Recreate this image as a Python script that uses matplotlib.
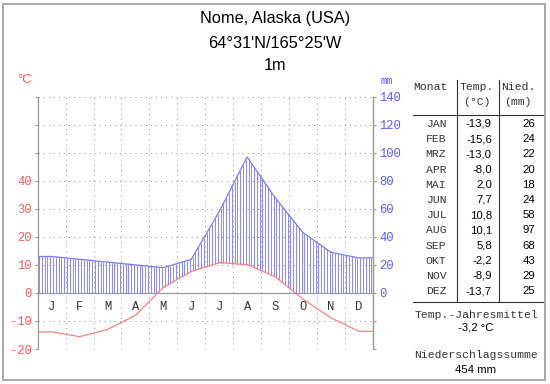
import numpy as np
import matplotlib
matplotlib.use("Agg")
import matplotlib.pyplot as plt
from matplotlib.lines import Line2D
from matplotlib.patches import Rectangle

# ---- data ----
month_letters = ['J', 'F', 'M', 'A', 'M', 'J', 'J', 'A', 'S', 'O', 'N', 'D']
table_months = ['JAN', 'FEB', 'MRZ', 'APR', 'MAI', 'JUN', 'JUL', 'AUG', 'SEP', 'OKT', 'NOV', 'DEZ']
temp = [-13.9, -15.6, -13.0, -8.0, 2.0, 7.7, 10.8, 10.1, 5.8, -2.2, -8.9, -13.7]
precip = [26, 24, 22, 20, 18, 24, 58, 97, 68, 43, 29, 25]
temp_labels = ['-13,9', '-15,6', '-13,0', '-8,0', '2,0', '7,7', '10,8', '10,1', '5,8', '-2,2', '-8,9', '-13,7']
title_lines = ['Nome, Alaska (USA)', "64°31'N/165°25'W", '1m']
mean_temp_text = '-3,2 °C'
precip_sum_text = '454 mm'

W, H = 550, 384
fig = plt.figure(figsize=(W / 100, H / 100), dpi=100)
fig.patch.set_facecolor('white')

def fx(x):
    return x / W

def fy(y):
    return 1 - y / H

MONO = 'Liberation Mono'
SANS = 'Liberation Sans'
RED = '#ff5a5a'
BLUE = '#5a5aff'
GRAY = '#9a9a9a'

# frame
fig.add_artist(Rectangle((fx(2.5), fy(380)), fx(545) - fx(2.5), fy(3.5) - fy(380),
                         transform=fig.transFigure, fill=False, edgecolor='#a8a8a8', lw=1.4))

# ---- axes ----
ax_l, ax_r, ax_t, ax_b = 37.7, 372.8, 96.7, 349.0
ax = fig.add_axes([fx(ax_l), fy(ax_b), fx(ax_r) - fx(ax_l), fy(ax_t) - fy(ax_b)])
ax.set_xlim(0, 12)
ax.set_ylim(-20, 70)
ax.set_facecolor('none')
for s in ['top', 'bottom']:
    ax.spines[s].set_visible(False)
for s in ['left', 'right']:
    ax.spines[s].set_color(GRAY)
    ax.spines[s].set_linewidth(0.9)

dot = (0, (1.0, 3.9))
for v in range(-20, 71, 10):
    if v == 0:
        ax.axhline(0, color=GRAY, lw=0.9, zorder=1)
    else:
        ax.axhline(v, color=GRAY, lw=0.75, linestyle=dot, zorder=1)
for k in range(1, 12):
    ax.axvline(k, color=GRAY, lw=0.75, linestyle=dot, zorder=1)

# left ticks
ax.set_yticks(range(-20, 71, 10))
ax.set_yticklabels([str(v) if v <= 40 else '' for v in range(-20, 71, 10)],
                   color=RED, fontfamily=MONO, fontsize=8.7)
ax.tick_params(axis='y', direction='out', length=2.5, width=0.8, color=GRAY, pad=2)
ax.set_xticks([])

# right axis (mm)
ax2 = ax.twinx()
ax2.set_ylim(-40, 140)
ax2.set_xlim(0, 12)
for s in ['top', 'bottom', 'left']:
    ax2.spines[s].set_visible(False)
ax2.spines['right'].set_color(GRAY)
ax2.spines['right'].set_linewidth(0.9)
mm_ticks = list(range(-40, 141, 20))
ax2.set_yticks(mm_ticks)
ax2.set_yticklabels([str(v) if v >= 0 else '' for v in mm_ticks],
                    color=BLUE, fontfamily=MONO, fontsize=8.7)
ax2.tick_params(axis='y', direction='out', length=2.5, width=0.8, color=GRAY, pad=2)

# curves
xc = np.arange(12) + 0.5
xe = np.concatenate([[0], xc, [12]])
te = np.concatenate([[temp[0]], temp, [temp[-1]]])
pe = np.concatenate([[precip[0]], precip, [precip[-1]]]) / 2.0

# hatch
hx = np.arange(0.05, 12, 0.1)
ht = np.interp(hx, xe, te)
hp = np.interp(hx, xe, pe)
lo = np.maximum(ht, 0)
mask = hp > lo
ax.vlines(hx[mask], lo[mask], hp[mask], color='#8c8cff', lw=0.75, zorder=2)

ax.plot(xe, pe, color='#7a7aff', lw=0.9, zorder=3)
ax.plot(xe, te, color='#ff8080', lw=0.9, zorder=3)

for i, m in enumerate(month_letters):
    ax.text(i + 0.5, -5, m, ha='center', va='center', fontfamily=MONO, fontsize=8.7, color='#333333')

# axis unit labels
fig.text(fx(25), fy(80), '°C', ha='center', va='center', color=RED, fontfamily=SANS, fontsize=9.5)
fig.text(fx(386.5), fy(81), 'mm', ha='center', va='center', color=BLUE, fontfamily=MONO, fontsize=7.5)

# title
for i, (t, yy) in enumerate(zip(title_lines, [19, 43, 66])):
    fig.text(fx(275), fy(yy), t, ha='center', va='center', fontfamily=SANS, fontsize=11.8, color='black')

# ---- table ----
TXT = '#333333'
fig.text(fx(430), fy(87), 'Monat', ha='center', va='center', fontfamily=MONO, fontsize=8.2, color=TXT)
fig.text(fx(477), fy(87), 'Temp.', ha='center', va='center', fontfamily=MONO, fontsize=8.2, color=TXT)
fig.text(fx(477), fy(102), '(°C)', ha='center', va='center', fontfamily=MONO, fontsize=8.2, color=TXT)
fig.text(fx(518), fy(87), 'Nied.', ha='center', va='center', fontfamily=MONO, fontsize=8.2, color=TXT)
fig.text(fx(518), fy(102), '(mm)', ha='center', va='center', fontfamily=MONO, fontsize=8.2, color=TXT)

for x0, x1, y0, y1 in [(456.7, 456.7, 80, 301), (499.3, 499.3, 80, 301),
                       (412.5, 543, 114.5, 114.5), (412.5, 543, 301.5, 301.5)]:
    fig.add_artist(Line2D([fx(x0), fx(x1)], [fy(y0), fy(y1)], transform=fig.transFigure,
                          color='#333333', lw=0.8))

row0, dy = 124, 15.2
for i in range(12):
    yy = row0 + i * dy
    fig.text(fx(436), fy(yy), table_months[i], ha='center', va='center', fontfamily=MONO, fontsize=8.2, color=TXT)
    fig.text(fx(492), fy(yy), temp_labels[i], ha='right', va='center', fontfamily=SANS, fontsize=8.2, color='black')
    fig.text(fx(535), fy(yy), str(precip[i]), ha='right', va='center', fontfamily=SANS, fontsize=8.2, color='black')

fig.text(fx(476), fy(314.5), 'Temp.-Jahresmittel', ha='center', va='center', fontfamily=MONO, fontsize=8.2, color=TXT)
fig.text(fx(476), fy(328), mean_temp_text, ha='center', va='center', fontfamily=SANS, fontsize=8.2, color='black')
fig.text(fx(476), fy(355), 'Niederschlagssumme', ha='center', va='center', fontfamily=MONO, fontsize=8.2, color=TXT)
fig.text(fx(476), fy(370), precip_sum_text, ha='center', va='center', fontfamily=SANS, fontsize=8.2, color='black')

fig.savefig('out.png', dpi=100, facecolor='white')
